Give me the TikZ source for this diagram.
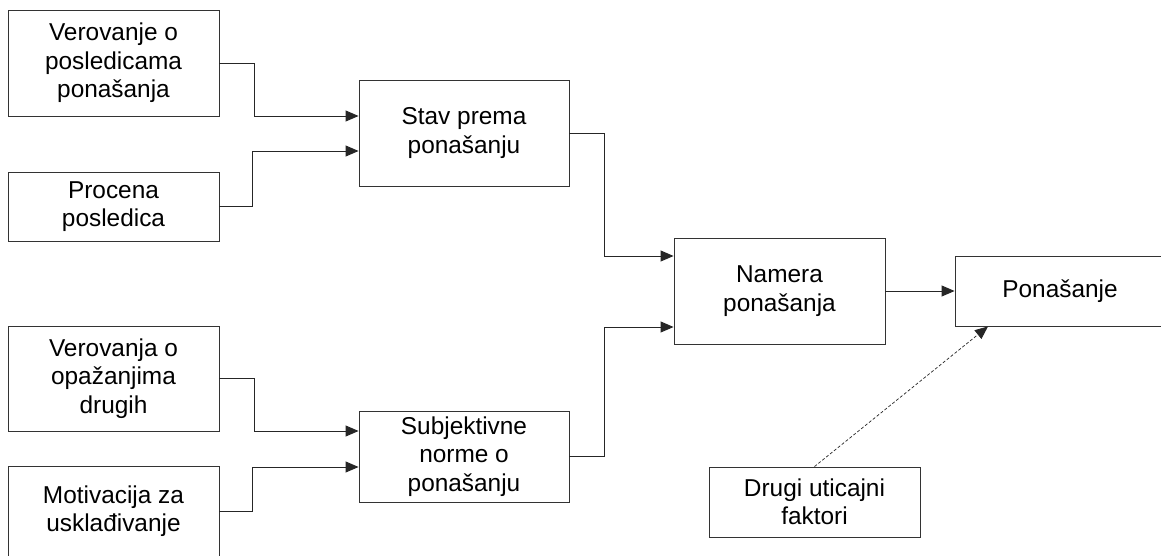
\documentclass[tikz,border=0pt]{standalone}
\usepackage{fontspec}
\setmainfont{Liberation Sans}
\usetikzlibrary{arrows.meta}
\begin{document}
\begin{tikzpicture}[x=1pt,y=-1pt,
  box/.style={draw=black!80,line width=0.9pt,rectangle,inner sep=0pt,align=center,
    font=\fontsize{24.4}{28.5}\selectfont},
  link/.style={draw=black!85,line width=0.9pt,-{Triangle[length=13pt,width=11pt]}},
  hint/.style={link,dash pattern=on 3pt off 2pt,line width=0.7pt}]
\useasboundingbox (0,0) rectangle (1161,556);
\fill[white] (0,0) rectangle (1161,556);

% belief and norm inputs (left column)
\node[box,minimum width=211pt,minimum height=106pt] (b1) at (113.5,63) {Verovanje o\\posledicama\\ponašanja};
\node[box,minimum width=211pt,minimum height=69pt] (b2) at (113.5,206.5) {Procena\\posledica};
\node[box,minimum width=211pt,minimum height=105pt] (b6) at (113.5,378.5) {Verovanja o\\opažanjima\\drugih};
\node[box,minimum width=211pt,minimum height=90pt] (b8) at (113.5,511) {Motivacija za\\usklađivanje};

% attitude and subjective norm
\node[box,minimum width=210pt,minimum height=106pt] (b3) at (464,133) {Stav prema\\ponašanju};
\node[box,minimum width=210pt,minimum height=91pt] (b7) at (464,456.5) {Subjektivne\\norme o\\ponašanju};

% intention, behaviour and other factors
\node[box,minimum width=211pt,minimum height=106pt] (b4) at (779.5,291) {Namera\\ponašanja};
\node[box,minimum width=210pt,minimum height=70pt] (b5) at (1060,291) {Ponašanje};
\node[box,minimum width=211pt,minimum height=70pt] (b9) at (814.5,502) {Drugi uticajni\\faktori};

% elbow connectors
\draw[link] (b1.east) -- (254,63) |- ([yshift=17pt]b3.west);
\draw[link] (b2.east) -- (252,206.5) |- ([yshift=-18pt]b3.west);
\draw[link] (b6.east) -- (254,378.5) |- ([yshift=25.5pt]b7.west);
\draw[link] (b8.east) -- (252,511) |- ([yshift=-10.5pt]b7.west);
\draw[link] (b3.east) -- (604,133) |- ([yshift=35pt]b4.west);
\draw[link] (b7.east) -- (604,456.5) |- ([yshift=-36pt]b4.west);
\draw[link] (b4.east) -- (b5.west);
\draw[hint] (b9.north) -- ([xshift=-72pt]b5.south);
\end{tikzpicture}
\end{document}
